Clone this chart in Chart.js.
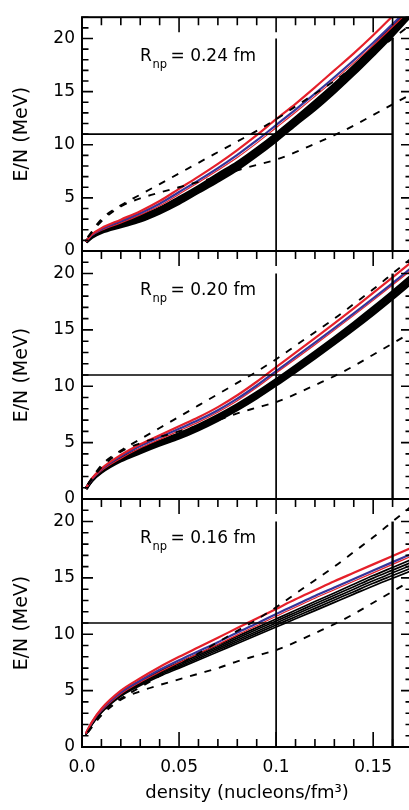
<!DOCTYPE html>
<html lang="en">
<head>
    <meta charset="UTF-8">
    <title>E/N vs density</title>
    <script src="https://cdn.jsdelivr.net/npm/chart.js@4.4.0/dist/chart.umd.min.js"></script>
    <style>
        html, body { margin: 0; padding: 0; overflow: hidden; background: #fff; }
        #wrap { position: relative; width: 409px; height: 810px; overflow: hidden; }
        canvas { position: absolute; left: 0; top: 0; }
    </style>
</head>
<body>
<div id="wrap">
    <canvas id="c1" width="416" height="810"></canvas>
    <canvas id="c2" width="416" height="810"></canvas>
    <canvas id="c3" width="416" height="810"></canvas>
</div>

<script>
    // density grid (nucleons/fm^3) for the solid curves
    var density = [0.002, 0.005, 0.01, 0.02, 0.03, 0.04, 0.05, 0.06, 0.07, 0.08, 0.09, 0.1, 0.11, 0.12, 0.13, 0.14, 0.15, 0.16, 0.17];

    var panelLabels = ["0.24", "0.20", "0.16"];

    // R_np = 0.24 fm
    var red24      = [0.9, 1.55, 2.15, 2.95, 3.75, 4.7, 5.85, 7.0, 8.2, 9.5, 10.9, 12.4, 13.85, 15.4, 17.0, 18.6, 20.3, 22.1, 23.9];
    var blue24     = [0.9, 1.5, 2.05, 2.8, 3.55, 4.45, 5.55, 6.65, 7.8, 9.05, 10.4, 11.85, 13.3, 14.8, 16.35, 17.95, 19.6, 21.35, 23.1];
    var redLow24   = [0.9, 1.45, 1.95, 2.65, 3.4, 4.25, 5.35, 6.45, 7.6, 8.8, 10.15, 11.6, 13.05, 14.55, 16.1, 17.7, 19.35, 21.1, 22.85];
    var blackHi24  = [0.85, 1.4, 1.95, 2.6, 3.25, 4.0, 5.0, 6.05, 7.2, 8.3, 9.6, 11.0, 12.5, 14.05, 15.65, 17.35, 19.15, 21.1, 23.1];
    var blackMid24 = [0.85, 1.35, 1.85, 2.45, 3.05, 3.8, 4.75, 5.8, 6.9, 8.0, 9.3, 10.7, 12.2, 13.7, 15.3, 17.0, 18.8, 20.7, 22.7];
    var blackLo24  = [0.85, 1.3, 1.75, 2.3, 2.85, 3.6, 4.5, 5.55, 6.6, 7.7, 9.0, 10.4, 11.9, 13.35, 14.95, 16.65, 18.45, 20.3, 22.3];

    // R_np = 0.20 fm
    var red20      = [0.95, 1.8, 2.7, 3.9, 4.85, 5.65, 6.45, 7.25, 8.15, 9.2, 10.4, 11.7, 12.98, 14.27, 15.58, 16.92, 18.28, 19.66, 21.06];
    var blue20     = [0.95, 1.75, 2.63, 3.78, 4.7, 5.47, 6.23, 7.0, 7.88, 8.9, 10.07, 11.35, 12.6, 13.87, 15.16, 16.47, 17.8, 19.16, 20.54];
    var redLow20   = [0.95, 1.7, 2.5, 3.6, 4.52, 5.29, 6.05, 6.82, 7.7, 8.72, 9.89, 11.17, 12.42, 13.69, 14.98, 16.29, 17.62, 18.98, 20.36];
    var blackHi20  = [0.9, 1.69, 2.53, 3.62, 4.4, 5.12, 5.79, 6.55, 7.41, 8.37, 9.43, 10.59, 11.8, 13.04, 14.31, 15.62, 16.98, 18.39, 19.85];
    var blackMid20 = [0.9, 1.65, 2.45, 3.5, 4.25, 4.95, 5.6, 6.35, 7.2, 8.15, 9.2, 10.35, 11.55, 12.78, 14.04, 15.34, 16.69, 18.09, 19.54];
    var blackLo20  = [0.9, 1.61, 2.37, 3.38, 4.1, 4.78, 5.41, 6.15, 6.99, 7.93, 8.97, 10.11, 11.3, 12.52, 13.77, 15.06, 16.4, 17.79, 19.23];

    // R_np = 0.16 fm
    var red16      = [1.2, 2.2, 3.4, 5.0, 6.1, 7.1, 8.0, 8.85, 9.7, 10.55, 11.4, 12.25, 13.1, 13.9, 14.7, 15.45, 16.2, 16.95, 17.7];
    var blue16     = [1.2, 2.15, 3.3, 4.85, 5.9, 6.85, 7.7, 8.5, 9.3, 10.15, 10.95, 11.8, 12.6, 13.4, 14.15, 14.9, 15.65, 16.4, 17.15];
    var redLow16   = [1.2, 2.1, 3.2, 4.7, 5.75, 6.65, 7.5, 8.3, 9.1, 9.95, 10.75, 11.6, 12.4, 13.2, 13.95, 14.7, 15.45, 16.2, 16.95];
    var blackA16   = [1.1, 2.05, 3.25, 4.8, 5.85, 6.72, 7.5, 8.28, 9.05, 9.82, 10.59, 11.36, 12.13, 12.9, 13.67, 14.44, 15.21, 15.93, 16.65];
    var blackB16   = [1.1, 2.03, 3.2, 4.73, 5.75, 6.61, 7.38, 8.14, 8.9, 9.66, 10.42, 11.18, 11.94, 12.7, 13.46, 14.22, 14.98, 15.69, 16.4];
    var blackC16   = [1.1, 2.0, 3.15, 4.65, 5.65, 6.5, 7.25, 8.0, 8.75, 9.5, 10.25, 11.0, 11.75, 12.5, 13.25, 14.0, 14.75, 15.45, 16.15];
    var blackD16   = [1.1, 1.98, 3.1, 4.58, 5.55, 6.39, 7.13, 7.86, 8.6, 9.34, 10.08, 10.82, 11.56, 12.3, 13.04, 13.78, 14.52, 15.21, 15.9];
    var blackE16   = [1.1, 1.95, 3.05, 4.5, 5.45, 6.28, 7.0, 7.72, 8.45, 9.18, 9.91, 10.64, 11.37, 12.1, 12.83, 13.56, 14.29, 14.97, 15.65];

    // dashed bounds, same in every panel
    var dashDensity = [0.003, 0.01, 0.02, 0.03, 0.04, 0.05, 0.06, 0.07, 0.08, 0.09, 0.1, 0.11, 0.12, 0.13, 0.14, 0.15, 0.16, 0.17];
    var dashUpper   = [1.3, 3.0, 4.3, 5.3, 6.3, 7.3, 8.3, 9.3, 10.3, 11.3, 12.4, 13.6, 14.8, 16.0, 17.3, 18.6, 20.0, 21.4];
    var dashLower   = [1.3, 2.8, 4.2, 4.95, 5.5, 6.0, 6.5, 7.0, 7.6, 8.1, 8.6, 9.3, 10.1, 10.9, 11.8, 12.8, 13.8, 14.8];

    // guide lines
    var guideE = [11, 11];
    var guideEDensity = [0, 0.16];
    var guideDensities = [0.1, 0.16];
    var guideSpan = [0, 20];

    var RED = "#e5202a";
    var BLUE = "#36349a";

    function pts(xs, ys) {
        return ys.map(function (v, i) { return {x: xs[i], y: v}; });
    }

    function solid(ys, color, w) {
        return {data: pts(density, ys), borderColor: color, borderWidth: w, pointRadius: 0,
            fill: false, cubicInterpolationMode: "monotone"};
    }

    function dashed(ys) {
        return {data: pts(dashDensity, ys), borderColor: "#000", borderWidth: 1.9, borderDash: [7, 8],
            pointRadius: 0, fill: false, cubicInterpolationMode: "monotone"};
    }

    function guides() {
        return [
            {data: pts(guideEDensity, guideE), borderColor: "#000", borderWidth: 1.6, pointRadius: 0},
            {data: pts([guideDensities[0], guideDensities[0]], guideSpan), borderColor: "#000", borderWidth: 1.7, pointRadius: 0},
            {data: pts([guideDensities[1], guideDensities[1]], guideSpan), borderColor: "#000", borderWidth: 2.4, pointRadius: 0}
        ];
    }

    var frame = {
        id: "frame",
        afterDatasetsDraw: function (chart, args, opts) {
            var ctx = chart.ctx, a = chart.chartArea, x = chart.scales.x, y = chart.scales.y;
            ctx.save();
            ctx.strokeStyle = "#000";
            ctx.lineWidth = 1.6;
            ctx.beginPath();
            for (var i = 0; i <= 17; i++) {
                var px = x.getPixelForValue(i / 100);
                var len = i % 5 === 0 ? 15 : 8;
                ctx.moveTo(px, a.top); ctx.lineTo(px, a.top + len);
                if (opts.bottomTicks) { ctx.moveTo(px, a.bottom); ctx.lineTo(px, a.bottom - len); }
            }
            for (var v = 0; v <= 22; v++) {
                var py = y.getPixelForValue(v);
                var l2 = v % 5 === 0 ? 11 : 6.5;
                ctx.moveTo(a.left, py); ctx.lineTo(a.left + l2, py);
                ctx.moveTo(a.right, py); ctx.lineTo(a.right - l2, py);
            }
            ctx.stroke();
            ctx.lineWidth = 2;
            ctx.strokeRect(a.left, a.top, a.right - a.left, a.bottom - a.top);

            // R_np label
            ctx.fillStyle = "#000";
            ctx.textBaseline = "alphabetic";
            ctx.font = '17px "DejaVu Sans"';
            var base = a.top + 44;
            ctx.fillText("R", 140, base);
            ctx.font = '11.5px "DejaVu Sans"';
            ctx.fillText("np", 152.5, base + 6.5);
            ctx.font = '17px "DejaVu Sans"';
            ctx.fillText("= " + opts.label + " fm", 170.5, base);
            ctx.restore();
        }
    };

    function makeChart(id, sets, label, top, bottomPad, isLast) {
        new Chart(document.getElementById(id), {
            type: "line",
            data: {datasets: sets},
            plugins: [frame],
            options: {
                responsive: false,
                animation: false,
                devicePixelRatio: 1,
                layout: {padding: {top: top, bottom: bottomPad, left: 0, right: 4}},
                plugins: {
                    legend: {display: false},
                    tooltip: {enabled: false},
                    frame: {label: label, bottomTicks: isLast}
                },
                scales: {
                    x: {
                        type: "linear", min: 0, max: 0.17,
                        grid: {display: false, drawTicks: false, tickLength: 0},
                        border: {display: false},
                        ticks: {
                            display: isLast, stepSize: 0.05, includeBounds: false, autoSkip: false,
                            maxRotation: 0, padding: 10, color: "#000",
                            font: {family: "DejaVu Sans", size: 17},
                            callback: function (value) { return value === 0 ? "0.0" : String(+value.toFixed(2)); }
                        },
                        title: {
                            display: isLast, text: "density (nucleons/fm\u00b3)", color: "#000",
                            font: {family: "DejaVu Sans", size: 18}, padding: {top: 0, bottom: 6}
                        },
                        afterFit: function (s) { s.height = isLast ? 63 : 0; }
                    },
                    y: {
                        min: 0, max: 22,
                        grid: {display: false, drawTicks: false, tickLength: 0},
                        border: {display: false},
                        ticks: {
                            stepSize: 5, includeBounds: false, padding: 7, color: "#000",
                            font: {family: "DejaVu Sans", size: 17}
                        },
                        title: {
                            display: true, text: "E/N (MeV)", color: "#000",
                            font: {family: "DejaVu Sans", size: 19}, padding: {top: 11, bottom: 0}
                        },
                        afterFit: function (s) { s.width = 82; }
                    }
                }
            }
        });
    }

    makeChart("c1", guides().concat([
        dashed(dashUpper), dashed(dashLower),
        solid(red24, RED, 2.2), solid(blue24, BLUE, 2.2), solid(redLow24, RED, 1.2),
        solid(blackHi24, "#000", 3.6), solid(blackMid24, "#000", 3.6), solid(blackLo24, "#000", 3.6)
    ]), panelLabels[0], 5, 559, false);

    makeChart("c2", guides().concat([
        dashed(dashUpper), dashed(dashLower),
        solid(red20, RED, 2.2), solid(blue20, BLUE, 2.2), solid(redLow20, RED, 1.2),
        solid(blackHi20, "#000", 3.2), solid(blackMid20, "#000", 3.2), solid(blackLo20, "#000", 3.2)
    ]), panelLabels[1], 251, 311, false);

    makeChart("c3", guides().concat([
        dashed(dashUpper), dashed(dashLower),
        solid(red16, RED, 2.2), solid(blue16, BLUE, 2.2), solid(redLow16, RED, 1.2),
        solid(blackA16, "#000", 1.7), solid(blackB16, "#000", 1.7), solid(blackC16, "#000", 1.7),
        solid(blackD16, "#000", 1.7), solid(blackE16, "#000", 1.7)
    ]), panelLabels[2], 499, 0, true);
</script>
</body>
</html>
